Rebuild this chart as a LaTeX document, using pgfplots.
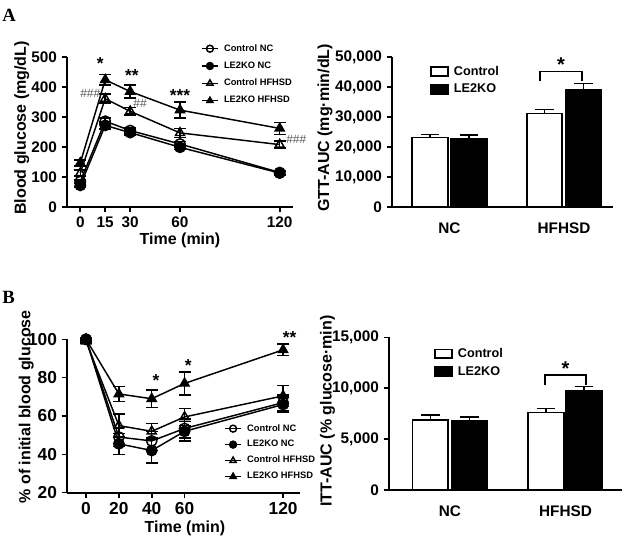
\documentclass[border=0pt]{standalone}
\usepackage{pgfplots}
\pgfplotsset{compat=1.18}
\usepackage{fontspec}
\setmainfont{Liberation Sans}
\newfontfamily\seriffont{Liberation Serif}
\definecolor{hashgray}{gray}{0.35}
\pgfplotsset{
  prism/.style={
    scale only axis, axis lines=left, axis line style={-, line width=1.5pt},
    enlargelimits=false, clip=false,
    tick align=outside, major tick length=4pt,
    every tick/.style={line width=1.2pt, black},
    tick label style={font=\bfseries\fontsize{11.5}{12}\selectfont},
    label style={font=\bfseries\fontsize{12}{13}\selectfont},
    /pgf/number format/assume math mode=true,
    /pgf/number format/1000 sep={,},
    scaled y ticks=false,
    legend cell align=left,
  },
  lnlegend/.style={
    legend image code/.code={\draw[##1,/tikz/.cd,mark size=2.6pt,mark repeat=2,mark phase=2] plot coordinates {(0pt,0pt)(6pt,0pt)(12pt,0pt)};},
  },
  barlegend/.style={
    legend image code/.code={\draw[##1,/tikz/.cd,line width=1.2pt] (0pt,-3.2pt) rectangle (12.5pt,3.4pt);},
  },
  ln/.style={black, line width=1.1pt, mark size=3.9pt, mark options={solid, line width=1.1pt},
    error bars/.cd, y dir=both, y explicit,
    error bar style={line width=1.1pt, black},
    error mark options={rotate=90, line width=1.1pt, mark size=4.5pt, black}},
  br/.style={ybar, bar shift=0pt, bar width=0.31, draw=black, line width=1.2pt,
    error bars/.cd, y dir=plus, y explicit,
    error bar style={line width=1.2pt, black},
    error mark options={rotate=90, line width=1.2pt, mark size=7pt, black}},
}
\begin{document}
\begin{tikzpicture}
\useasboundingbox (0,0) rectangle (468.75pt,406.5pt);
\node[anchor=north west, inner sep=0pt, font=\seriffont\bfseries\fontsize{14}{14}\selectfont] at (1.5pt,400pt) {A};
\node[anchor=north west, inner sep=0pt, font=\seriffont\bfseries\fontsize{14}{14}\selectfont] at (1.5pt,188.5pt) {B};

% ---------- A: GTT ----------
\begin{axis}[prism, lnlegend, at={(50.25pt,251.25pt)}, anchor=south west,
  width=169.5pt, height=112.5pt,
  xmin=-8, xmax=128, ymin=0, ymax=500,
  xtick={0,15,30,60,120}, ytick={0,100,...,500},
  xlabel={Time (min)}, ylabel={Blood glucose (mg/dL)},
  xlabel style={at={(axis description cs:0.5,-0.22)}, anchor=center},
  ylabel style={at={(axis description cs:-0.2,0.527)}, anchor=center},
  legend style={at={(0.575,1.113)}, anchor=north west, draw=none, fill=none,
    font=\bfseries\fontsize{7}{7}\selectfont, row sep=4.5pt, column sep=3pt,
    nodes={inner sep=1pt}},
]
\addplot+[mark=o, ln] coordinates {(0,85) +- (0,5) (15,286) +- (0,10) (30,255) +- (0,8) (60,210) +- (0,8) (120,115) +- (0,6)};
\addlegendentry{Control NC}
\addplot+[mark=*, ln] coordinates {(0,72) +- (0,6) (15,272) +- (0,12) (30,248) +- (0,8) (60,199) +- (0,8) (120,113) +- (0,6)};
\addlegendentry{LE2KO NC}
\addplot+[mark=triangle, ln] coordinates {(0,113) +- (0,10) (15,361) +- (0,15) (30,319) +- (0,12) (60,247) +- (0,15) (120,208) +- (0,12)};
\addlegendentry{Control HFHSD}
\addplot+[mark=triangle*, ln] coordinates {(0,147) +- (0,10) (15,424) +- (0,18) (30,385) +- (0,22) (60,323) +- (0,27) (120,262) +- (0,20)};
\addlegendentry{LE2KO HFHSD}
\node[font=\bfseries\fontsize{13}{13}\selectfont] at (axis cs:12,478) {*};
\node[font=\bfseries\fontsize{13}{13}\selectfont] at (axis cs:31,437) {**};
\node[font=\bfseries\fontsize{13}{13}\selectfont] at (axis cs:60,373) {***};
\node[font=\fontsize{9}{9}\selectfont, text=hashgray] at (axis cs:6,380) {\#\#\#};
\node[font=\fontsize{9}{9}\selectfont, text=hashgray] at (axis cs:36,344) {\#\#};
\node[font=\fontsize{9}{9}\selectfont, text=hashgray] at (axis cs:130,227) {\#\#\#};
\end{axis}

% ---------- A: GTT-AUC ----------
\begin{axis}[prism, barlegend, at={(294pt,251.25pt)}, anchor=south west,
  width=165.75pt, height=112.5pt,
  xmin=-0.502, xmax=1.428, ymin=0, ymax=50000,
  xtick={0,1}, xticklabels={NC,HFHSD}, xtick style={draw=none},
  ytick={0,10000,...,50000},
  xticklabel style={yshift=-4pt},
  ylabel={GTT-AUC (mg·min/dL)},
  ylabel style={at={(axis description cs:-0.303,0.527)}, anchor=center},
  legend style={at={(0.154,0.967)}, anchor=north west, draw=none, fill=none,
    font=\bfseries\fontsize{9.5}{9.5}\selectfont, row sep=3pt, column sep=3pt,
    nodes={inner sep=1pt}},
]
\addplot[fill=white, br] coordinates {(-0.17,23100) +- (0,1100) (0.83,31100) +- (0,1400)};
\addlegendentry{Control}
\addplot[fill=black, br] coordinates {(0.17,22700) +- (0,1200) (1.17,38900) +- (0,2200)};
\addlegendentry{LE2KO}
\draw[line width=1.2pt] (axis cs:0.79,41900) -- (axis cs:0.79,45200) -- (axis cs:1.157,45200) -- (axis cs:1.157,41900);
\node[font=\bfseries\fontsize{15}{15}\selectfont] at (axis cs:0.975,47600) {*};
\end{axis}

% ---------- B: ITT ----------
\begin{axis}[prism, lnlegend, at={(50.25pt,36.975pt)}, anchor=south west,
  width=174.75pt, height=115.05pt,
  xmin=-11.6, xmax=130.3, ymin=20, ymax=100,
  xtick={0,20,40,60,120}, ytick={20,40,...,100},
  tick label style={font=\bfseries\fontsize{13}{13}\selectfont},
  xlabel={Time (min)}, ylabel={\% of initial blood glucose},
  xlabel style={at={(axis description cs:0.506,-0.23)}, anchor=center},
  ylabel style={at={(axis description cs:-0.175,0.56)}, anchor=center},
  legend style={at={(0.657,0.474)}, anchor=north west, draw=none, fill=none,
    font=\bfseries\fontsize{7}{7}\selectfont, row sep=3.5pt, column sep=3pt,
    nodes={inner sep=1pt}},
]
\addplot+[mark=o, ln] coordinates {(0,100) +- (0,1) (20,49) +- (0,5) (40,47) +- (0,5) (60,53.5) +- (0,5) (120,67) +- (0,4)};
\addlegendentry{Control NC}
\addplot+[mark=*, ln] coordinates {(0,100) +- (0,1) (20,45.5) +- (0,5.5) (40,42) +- (0,6.5) (60,52) +- (0,5) (120,66) +- (0,4)};
\addlegendentry{LE2KO NC}
\addplot+[mark=triangle, ln] coordinates {(0,99) +- (0,1) (20,55) +- (0,6) (40,52) +- (0,4) (60,59.5) +- (0,4.5) (120,70.5) +- (0,5.5)};
\addlegendentry{Control HFHSD}
\addplot+[mark=triangle*, ln] coordinates {(0,100) +- (0,1) (20,71.5) +- (0,4) (40,69) +- (0,4.5) (60,77) +- (0,6) (120,94.5) +- (0,3)};
\addlegendentry{LE2KO HFHSD}
\node[font=\bfseries\fontsize{13}{13}\selectfont] at (axis cs:42.6,78.3) {*};
\node[font=\bfseries\fontsize{13}{13}\selectfont] at (axis cs:62.3,86.5) {*};
\node[font=\bfseries\fontsize{13}{13}\selectfont] at (axis cs:124,101) {**};
\end{axis}

% ---------- B: ITT-AUC ----------
\begin{axis}[prism, barlegend, at={(291.75pt,39pt)}, anchor=south west,
  width=174.75pt, height=114.5pt,
  xmin=-0.528, xmax=1.489, ymin=0, ymax=15000,
  xtick={0,1}, xticklabels={NC,HFHSD}, xtick style={draw=none},
  ytick={0,5000,10000,15000},
  xticklabel style={yshift=-4pt},
  ylabel={ITT-AUC (\% glucose·min)},
  ylabel style={at={(axis description cs:-0.264,0.517)}, anchor=center},
  legend style={at={(0.176,0.956)}, anchor=north west, draw=none, fill=none,
    font=\bfseries\fontsize{9.5}{9.5}\selectfont, row sep=3pt, column sep=3pt,
    nodes={inner sep=1pt}},
]
\addplot[fill=white, br] coordinates {(-0.17,6900) +- (0,450) (0.83,7600) +- (0,420)};
\addlegendentry{Control}
\addplot[fill=black, br] coordinates {(0.17,6750) +- (0,450) (1.16,9750) +- (0,420)};
\addlegendentry{LE2KO}
\draw[line width=1.2pt] (axis cs:0.823,10310) -- (axis cs:0.823,11300) -- (axis cs:1.178,11300) -- (axis cs:1.178,10310);
\node[font=\bfseries\fontsize{15}{15}\selectfont] at (axis cs:1.0,11950) {*};
\end{axis}
\end{tikzpicture}
\end{document}
